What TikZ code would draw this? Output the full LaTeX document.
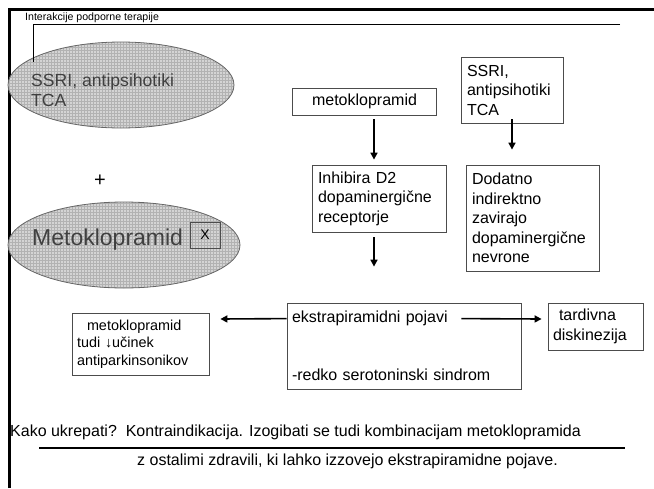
\documentclass[tikz,border=0pt]{standalone}
\usepackage{fontspec}
\setmainfont{Liberation Sans}
\usetikzlibrary{arrows.meta, positioning, patterns, shapes.geometric}

\newcommand{\fsz}[2]{\fontsize{#1}{#2}\selectfont}

\tikzset{
  box/.style={draw=black!70, line width=0.8pt, align=left, inner xsep=6pt, inner ysep=0pt, font=\fsz{16}{19.5}},
  oval/.style={ellipse, draw=black!60, line width=0.8pt, inner sep=0pt,
    preaction={fill=black!17}, pattern=grid, pattern color=black!30},
  ovaltext/.style={anchor=west, inner sep=0pt, text=black!75, align=left},
  plain/.style={anchor=west, inner sep=0pt, font=\fsz{16}{19}},
  arr/.style={->, line width=1.6pt}
}

\begin{document}
\begin{tikzpicture}[x=1pt, y=-1pt, >={Triangle[length=7pt,width=7pt]}]
            \useasboundingbox (0,0) rectangle (654,488);

            % frame and title
            \draw[line width=3pt] (9,488) -- (9,9) -- (654,9);
            \node[plain, font=\fsz{10.6}{12}] (title) at (25,18) {Interakcije podporne terapije};
            \coordinate (leadend) at (620,24);

            % left: the two ovals
            \node[oval, minimum width=226pt, minimum height=86pt] (ssrioval) at (121,85) {};
            \node[ovaltext, font=\fsz{17.6}{20}] (ssritext) at (31,90) {SSRI, antipsihotiki\\TCA};
            \draw[line width=1pt] (leadend) -| ([xshift=2pt,yshift=11pt]ssritext.north west);

            \node[inner sep=0pt, font=\fsz{20}{22}] (plus) at (100,181) {+};

            \node[oval, minimum width=232pt, minimum height=86pt] (metooval) at (124,245) {};
            \node[ovaltext, font=\fsz{23}{26}] (metotext) at (32,240) {Metoklopramid};
            \node[box, align=center, inner sep=0pt, minimum width=30pt, minimum height=26pt, font=\fsz{14}{16}] (xbox) at (205,235) {X};

            % right: mechanism
            \node[box, inner xsep=15pt, minimum width=144pt, minimum height=27pt] (metobox) at (364.5,101.5) {metoklopramid};
            \node[box, text width=90pt, minimum height=66pt] (ssribox) at (512,90) {SSRI,\\antipsihotiki\\TCA};
            \node[box, text width=122pt, minimum height=67pt] (inhib) at (379,198.5) {Inhibira D2\\dopaminergične\\receptorje};
            \node[box, text width=121pt, minimum height=106pt] (dodatno) at (532.5,218) {Dodatno\\indirektno\\zavirajo\\dopaminergične\\nevrone};

            % bottom: effects
            \node[box, text width=224pt, minimum height=86pt, inner xsep=5pt] (ekstra) at (404,346) {ekstrapiramidni pojavi\\[38pt]-redko serotoninski sindrom};
            \node[box, text width=127pt, minimum height=62pt, inner xsep=5pt, font=\fsz{14.4}{17.5}] (antipark) at (140.5,344) {\hspace*{10pt}metoklopramid\\tudi ↓učinek\\antiparkinsonikov};
            \node[box, text width=85pt, minimum height=47pt, inner xsep=5pt] (tard) at (595.5,326.5) {\hspace*{6pt}tardivna\\diskinezija};

            \draw[arr] ([xshift=9.5pt,yshift=-4pt]metobox.south) -- ([xshift=-5pt,yshift=5pt]inhib.north);
            \draw[arr] ([yshift=4pt]ssribox.south) -- ([xshift=-20.5pt,yshift=15pt]dodatno.north);
            \draw[arr] ([xshift=-5pt,yshift=-5pt]inhib.south) -- ([xshift=-30pt,yshift=36pt]ekstra.north);
            \draw[arr] ([yshift=-16pt]ekstra.north west) -- ([xshift=11pt,yshift=25pt]antipark.east);
            \draw[arr] ([xshift=-60pt,yshift=-16pt]ekstra.north east) -- ([xshift=-6pt,yshift=7.5pt]tard.west);

            % conclusion
            \node[plain] (kako) at (10,432) {Kako ukrepati?\ \ Kontraindikacija. Izogibati se tudi kombinacijam metoklopramida};
            \node[plain] (ostali) at (137,461) {z ostalimi zdravili, ki lahko izzovejo ekstrapiramidne pojave.};
            \draw[line width=1.5pt] (39,448) -- (625,448);
        \end{tikzpicture}
\end{document}
